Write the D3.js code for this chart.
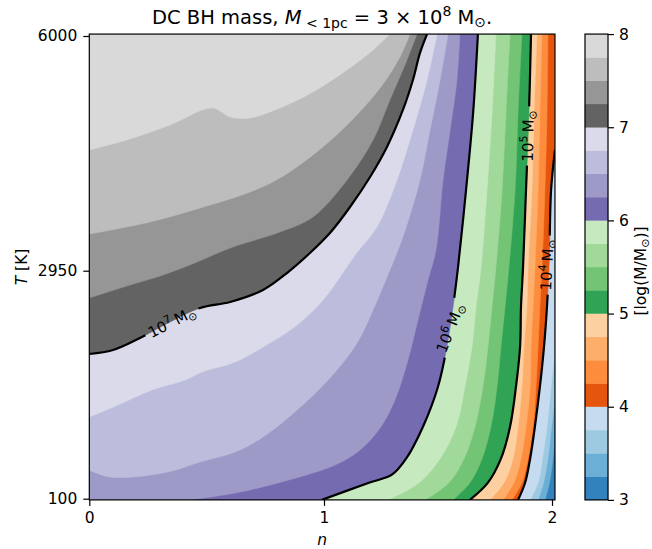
<!DOCTYPE html>
<html>
<head>
<meta charset="utf-8">
<script src="https://cdn.jsdelivr.net/npm/d3@7"></script>
<style>
  body { margin: 0; background: #fff; }
  svg { display: block; }
  text { font-family: "DejaVu Sans", sans-serif; fill: #000; }
</style>
</head>
<body>
<svg id="chart" width="652" height="549"></svg>
<script>
// ---- data ---------------------------------------------------------------
// grid extent in (n, T)
const nExtent = [0, 2.013];
const tExtent = [85, 6025];
const xTicks = [0, 1, 2];
const yTicks = [100, 2950, 6000];
const cbarTicks = [3, 4, 5, 6, 7, 8];
// filled levels of log10(M / Msun)
const levels = d3.range(0, 21).map(i => 3 + 0.25 * i);
const bandColors = [
  "#3182bd", "#6baed6", "#9ecae1", "#c6dbef",
  "#e6550d", "#fd8d3c", "#fdae6b", "#fdd0a2",
  "#31a354", "#74c476", "#a1d99b", "#c7e9c0",
  "#756bb1", "#9e9ac8", "#bcbddc", "#dadaeb",
  "#636363", "#969696", "#bdbdbd", "#d9d9d9"
];

// temperatures at which the steep iso-lines are sampled
const tRows = [85, 300, 600, 1000, 1500, 2000, 2500, 3000, 4000, 5000, 6025];

// iso-lines, each as [n, T] points running from the low-T / low-n edge
const iso325 = [[1.969, 85], [1.989, 300], [2.004, 600], [2.013, 900]];
const iso350 = [[1.939, 85], [1.963, 300], [1.982, 600], [1.998, 1000], [2.013, 1330]];
const iso375 = [[1.904, 85], [1.939, 300], [1.958, 600], [1.978, 1000], [1.996, 1500], [2.013, 1950]];
const iso400 = [[1.851, 85], [1.882, 300], [1.904, 600], [1.925, 1000], [1.947, 1500],
                [1.965, 2000], [1.978, 2500], [1.987, 3000], [1.996, 4000], [2.013, 4520]];
const iso425 = [1.825, 1.868, 1.895, 1.917, 1.930, 1.939, 1.947, 1.956, 1.969, 1.978, 1.982];
const iso450 = [1.785, 1.833, 1.864, 1.886, 1.904, 1.908, 1.917, 1.925, 1.939, 1.947, 1.956];
const iso475 = [1.728, 1.789, 1.829, 1.851, 1.868, 1.877, 1.890, 1.895, 1.912, 1.921, 1.934];
const iso500 = [1.640, 1.719, 1.776, 1.816, 1.842, 1.860, 1.864, 1.873, 1.886, 1.899, 1.908];
const iso525 = [1.566, 1.640, 1.693, 1.732, 1.759, 1.776, 1.794, 1.811, 1.838, 1.851, 1.868];
const iso550 = [1.443, 1.548, 1.614, 1.662, 1.697, 1.719, 1.737, 1.754, 1.781, 1.798, 1.816];
const iso575 = [1.281, 1.417, 1.509, 1.579, 1.618, 1.649, 1.667, 1.689, 1.715, 1.737, 1.754];
const iso600 = [[0.991, 85], [1.197, 300], [1.298, 400], [1.360, 600], [1.434, 1000], [1.500, 1500],
                [1.539, 2000], [1.566, 2500], [1.588, 3000], [1.623, 4000], [1.654, 5000], [1.675, 6025]];
const iso625 = [[0.429, 85], [0.621, 171], [0.834, 321], [1.048, 521], [1.158, 709], [1.246, 984],
                [1.311, 1334], [1.368, 1834], [1.412, 2334], [1.456, 2834], [1.491, 3219],
                [1.522, 4129], [1.553, 4779], [1.583, 5429], [1.596, 6025]];
const iso650 = [[0, 459], [0.089, 371], [0.314, 421], [0.472, 559], [0.621, 684], [0.740, 871],
                [0.885, 1209], [1.026, 1609], [1.145, 2046], [1.215, 2459], [1.276, 2871],
                [1.333, 3284], [1.377, 3674], [1.421, 4129], [1.465, 4779], [1.509, 5429], [1.544, 6025]];
const iso675 = [[0, 1121], [0.122, 1271], [0.267, 1459], [0.408, 1584], [0.480, 1684], [0.621, 1809],
                [0.740, 1996], [0.885, 2271], [0.996, 2584], [1.070, 2871], [1.136, 3154],
                [1.232, 3518], [1.320, 4129], [1.390, 4779], [1.452, 5429], [1.496, 6025]];
const iso700 = [[0, 1909], [0.101, 1959], [0.216, 2109], [0.344, 2309], [0.472, 2484], [0.600, 2559],
                [0.740, 2709], [0.842, 2921], [0.940, 3180], [1.026, 3440], [1.114, 3778],
                [1.202, 4168], [1.276, 4558], [1.346, 5039], [1.390, 5429], [1.421, 5780], [1.452, 6025]];
const iso725 = [[0, 2609], [0.173, 2771], [0.314, 2896], [0.459, 3063], [0.600, 3245], [0.812, 3453],
                [0.953, 3648], [1.101, 4129], [1.215, 4649], [1.289, 5169], [1.364, 5689], [1.408, 6025]];
const iso750 = [[0, 3427], [0.259, 3583], [0.472, 3765], [0.685, 3973], [0.812, 4155], [0.953, 4454],
                [1.101, 4844], [1.246, 5325], [1.333, 5728], [1.377, 6025]];
const iso775 = [[0, 4519], [0.173, 4662], [0.344, 4844], [0.523, 5065], [0.600, 4948], [0.685, 4935],
                [0.812, 5065], [0.953, 5273], [1.101, 5559], [1.215, 5819], [1.289, 6025]];

// iso-lines drawn in black, with their inline labels (anchor in n, T; angle in degrees)
const linedLevels = [4, 5, 6, 7];
const lineLabels = [
  { level: 7, exp: "7", at: [0.352, 2309], angle: -27 },
  { level: 6, exp: "6", at: [1.553, 2234], angle: -69 },
  { level: 5, exp: "5", at: [1.895, 4701], angle: -89 },
  { level: 4, exp: "4", at: [1.978, 3024], angle: -87 }
];

// ---- assemble -----------------------------------------------------------
const onRows = ns => ns.map((n, i) => [n, tRows[i]]);
const isoByLevel = new Map([
  [3.25, iso325], [3.5, iso350], [3.75, iso375], [4, iso400],
  [4.25, onRows(iso425)], [4.5, onRows(iso450)], [4.75, onRows(iso475)], [5, onRows(iso500)],
  [5.25, onRows(iso525)], [5.5, onRows(iso550)], [5.75, onRows(iso575)], [6, iso600],
  [6.25, iso625], [6.5, iso650], [6.75, iso675], [7, iso700],
  [7.25, iso725], [7.5, iso750], [7.75, iso775]
]);

const svg = d3.select("#chart");
const x = d3.scaleLinear().domain(xTicks).range([89.3, 324, 552]);
const y = d3.scaleLinear().domain(yTicks).range([498.7, 270.7, 36]);
const x0 = x(nExtent[0]), x1 = x(nExtent[1]);
const y0 = y(tExtent[0]), y1 = y(tExtent[1]);

const defs = svg.append("defs");
defs.append("clipPath").attr("id", "plotClip")
  .append("rect").attr("x", x0).attr("y", y1).attr("width", x1 - x0).attr("height", y0 - y1);

const isoLine = d3.line().x(d => x(d[0])).y(d => y(d[1])).curve(d3.curveCatmullRom.alpha(0.5));

// region where value >= level: the iso-line closed through the upper-left corner
function superLevel(curve) {
  const first = curve[0], last = curve[curve.length - 1];
  const corners = [];
  if (last[0] >= nExtent[1] - 1e-9) corners.push([nExtent[1], tExtent[1]]);
  corners.push([nExtent[0], tExtent[1]]);
  if (first[1] <= tExtent[0] + 1e-9) corners.push([nExtent[0], tExtent[0]]);
  return isoLine(curve) + corners.map(p => `L${x(p[0])},${y(p[1])}`).join("") + "Z";
}

const plot = svg.append("g").attr("clip-path", "url(#plotClip)");
plot.append("rect")
  .attr("x", x0).attr("y", y1).attr("width", x1 - x0).attr("height", y0 - y1)
  .attr("fill", bandColors[0]);

plot.selectAll("path.band")
  .data(levels.slice(1, 20))
  .join("path")
  .attr("class", "band")
  .attr("d", lv => superLevel(isoByLevel.get(lv)))
  .attr("fill", (lv, i) => bandColors[i + 1])
  .attr("stroke", (lv, i) => bandColors[i + 1])
  .attr("stroke-width", 0.6);

// inline labels
const labelG = svg.append("g").attr("clip-path", "url(#plotClip)");
const labels = labelG.selectAll("text")
  .data(lineLabels)
  .join("text")
  .attr("transform", d => `translate(${x(d.at[0])},${y(d.at[1])}) rotate(${d.angle})`)
  .attr("text-anchor", "middle")
  .attr("dy", "0.35em")
  .attr("font-size", 15);
labels.each(function (d) {
  const t = d3.select(this);
  t.append("tspan").text("10");
  t.append("tspan").attr("font-size", 11).attr("dy", -6).text(d.exp);
  t.append("tspan").attr("dy", 6).text("\u2009M");
  t.append("tspan").attr("font-size", 11).attr("dy", 3).text("\u2299");
});

// mask that cuts the black lines where labels sit
const mask = defs.append("mask").attr("id", "labelGap").attr("maskUnits", "userSpaceOnUse")
  .attr("x", 0).attr("y", 0).attr("width", 652).attr("height", 549);
mask.append("rect").attr("x", 0).attr("y", 0).attr("width", 652).attr("height", 549).attr("fill", "#fff");
labels.each(function (d) {
  const w = this.getComputedTextLength() + 8;
  mask.append("rect")
    .attr("transform", `translate(${x(d.at[0])},${y(d.at[1])}) rotate(${d.angle})`)
    .attr("x", -w / 2).attr("y", -9).attr("width", w).attr("height", 18)
    .attr("fill", "#000");
});

plot.append("g").attr("mask", "url(#labelGap)")
  .selectAll("path.iso")
  .data(linedLevels)
  .join("path")
  .attr("class", "iso")
  .attr("d", lv => isoLine(isoByLevel.get(lv)))
  .attr("fill", "none")
  .attr("stroke", "#000")
  .attr("stroke-width", 2.2)
  .attr("stroke-linejoin", "round");

// frame and axes
svg.append("rect")
  .attr("x", x0).attr("y", y1).attr("width", x1 - x0).attr("height", y0 - y1)
  .attr("fill", "none").attr("stroke", "#000").attr("stroke-width", 1.2);

const tickFont = 15.5;
const xAxis = svg.append("g").attr("transform", `translate(0,${y0})`)
  .call(d3.axisBottom(x).tickValues(xTicks).tickFormat(d3.format("d")).tickSize(6).tickPadding(6));
const yAxis = svg.append("g").attr("transform", `translate(${x0},0)`)
  .call(d3.axisLeft(y).tickValues(yTicks).tickFormat(d3.format("d")).tickSize(6).tickPadding(6));
[xAxis, yAxis].forEach(g => {
  g.select(".domain").remove();
  g.selectAll(".tick line").attr("stroke", "#000").attr("stroke-width", 1.2);
  g.selectAll(".tick text").attr("font-size", tickFont).attr("font-family", "DejaVu Sans").attr("fill", "#000");
});

svg.append("text")
  .attr("x", (x0 + x1) / 2).attr("y", 545)
  .attr("text-anchor", "middle").attr("font-size", tickFont).attr("font-style", "italic")
  .text("n");

const yl = svg.append("text")
  .attr("transform", `translate(27,${(y0 + y1) / 2}) rotate(-90)`)
  .attr("text-anchor", "middle").attr("font-size", tickFont);
yl.append("tspan").attr("font-style", "italic").text("T");
yl.append("tspan").text(" [K]");

// title
const title = svg.append("text")
  .attr("x", (x0 + x1) / 2).attr("y", 24)
  .attr("text-anchor", "middle").attr("font-size", 19.5);
title.append("tspan").text("DC BH mass, ");
title.append("tspan").attr("font-style", "italic").text("M");
title.append("tspan").attr("font-size", 14).attr("dy", 4).text(" < 1pc");
title.append("tspan").attr("dy", -4).text(" = 3 \u00d7 10");
title.append("tspan").attr("font-size", 14).attr("dy", -8).text("8");
title.append("tspan").attr("dy", 8).text(" M");
title.append("tspan").attr("font-size", 14).attr("dy", 3).text("\u2299");
title.append("tspan").attr("dy", -3).text(".");

// colorbar
const cb = { left: 585, width: 23 };
const cy = d3.scaleLinear().domain([3, 8]).range([y0, y1]);
svg.append("g").selectAll("rect")
  .data(levels.slice(0, 20))
  .join("rect")
  .attr("x", cb.left).attr("width", cb.width)
  .attr("y", lv => cy(lv + 0.25)).attr("height", lv => cy(lv) - cy(lv + 0.25))
  .attr("fill", (lv, i) => bandColors[i])
  .attr("stroke", (lv, i) => bandColors[i]).attr("stroke-width", 0.4);
svg.append("rect")
  .attr("x", cb.left).attr("y", y1).attr("width", cb.width).attr("height", y0 - y1)
  .attr("fill", "none").attr("stroke", "#000").attr("stroke-width", 1.2);
const cAxis = svg.append("g").attr("transform", `translate(${cb.left + cb.width},0)`)
  .call(d3.axisRight(cy).tickValues(cbarTicks).tickFormat(d3.format("d")).tickSize(6).tickPadding(5));
cAxis.select(".domain").remove();
cAxis.selectAll(".tick line").attr("stroke", "#000").attr("stroke-width", 1.2);
cAxis.selectAll(".tick text").attr("font-size", tickFont).attr("font-family", "DejaVu Sans").attr("fill", "#000");

const cl = svg.append("text")
  .attr("transform", `translate(646,${(y0 + y1) / 2 + 4}) rotate(-90)`)
  .attr("text-anchor", "middle").attr("font-size", tickFont);
cl.append("tspan").text("[log(M/M");
cl.append("tspan").attr("font-size", 11).attr("dy", 3).text("\u2299");
cl.append("tspan").attr("dy", -3).text(")]");
</script>
</body>
</html>
